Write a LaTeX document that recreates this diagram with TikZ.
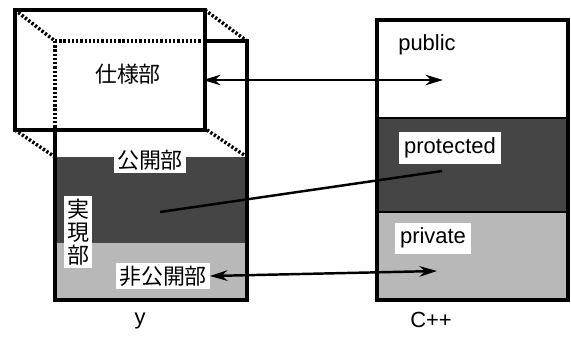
\documentclass[tikz,border=0pt]{standalone}
\usepackage{fontspec}
\newfontfamily\lat{Liberation Sans}
\newfontfamily\jp{Noto Sans CJK JP}
\usetikzlibrary{arrows.meta}
\definecolor{darkshade}{gray}{0.27}
\definecolor{lightshade}{gray}{0.72}
\tikzset{
  border/.style={line width=1.8pt},
  hidden/.style={line width=2pt, dash pattern=on 1.3pt off 1.1pt},
  jlabel/.style={font=\jp\fontsize{12.5}{14}\selectfont, fill=white, inner sep=1.5pt},
  elabel/.style={font=\lat\fontsize{12.5}{14}\selectfont, inner sep=1.5pt},
  conn/.style={line width=1.4pt, {Stealth[length=10pt,width=6pt]}-{Stealth[length=10pt,width=6pt]}},
  plainconn/.style={line width=1.4pt}
}
\begin{document}
\begin{tikzpicture}[x=0.02cm,y=-0.02cm]
\useasboundingbox (0,0) rectangle (571,342);
% ---- y: back box fills
\fill[darkshade] (55,157) rectangle (247,243);
\fill[lightshade] (55,243) rectangle (247,300);
% front box (spec part)
\draw[border, fill=white] (15,10) rectangle (205,130);
% back box solid edges
\draw[border] (205,41) -- (247,41) -- (247,300) -- (55,300) -- (55,130);
% hidden (dotted) edges
\draw[hidden] (55,41) -- (205,41);
\draw[hidden] (55,41) -- (55,130);
\draw[hidden] (15,10) -- (55,41);
\draw[hidden] (205,10) -- (247,41);
\draw[hidden] (15,130) -- (55,157);
\draw[hidden] (207,130) -- (247,157);
% ---- C++ box
\fill[darkshade] (377,118) rectangle (568,212);
\fill[lightshade] (377,212) rectangle (568,300);
\draw[line width=1.2pt] (377,118) -- (568,118);
\draw[line width=1pt] (377,212) -- (568,212);
\draw[border] (377,20) rectangle (568,300);
% ---- labels
\node[font=\jp\fontsize{12.5}{14}\selectfont, inner sep=1pt] (spec) at (128,74) {仕様部};
\node[jlabel] (pub) at (150,160) {公開部};
\node[jlabel, align=center, font=\jp\fontsize{12.5}{13}\selectfont] (impl) at (78,232) {実\\現\\部};
\node[jlabel] (priv) at (163,276) {非公開部};
\node[elabel] (cpub) at (427,45) {public};
\node[elabel, fill=white, inner sep=3pt] (cprot) at (450,148) {protected};
\node[elabel, fill=white, inner sep=3pt] (cpriv) at (433,238) {private};
\node[elabel] (ylab) at (140,321) {y};
\node[elabel] (cpplab) at (431,320) {C++};
% ---- connectors
\coordinate (specend) at (203,80);
\coordinate (pubend) at (443,80);
\coordinate (implend) at (160,212);
\coordinate (protend) at (442,171);
\coordinate (privend) at (437,271);
\draw[conn] (specend) -- (pubend);
\draw[plainconn] (implend) -- (protend);
\draw[conn] (priv.east) -- (privend);
\end{tikzpicture}
\end{document}
